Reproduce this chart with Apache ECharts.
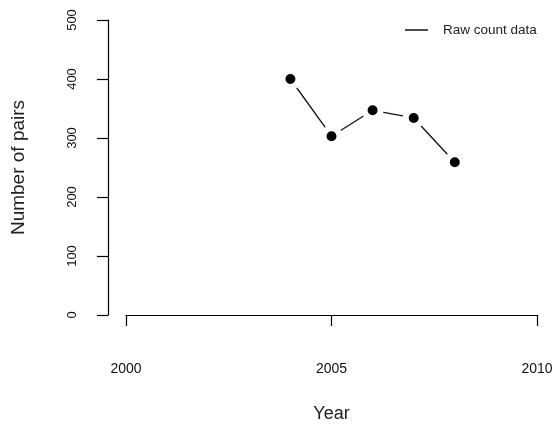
<!DOCTYPE html>
<html><head><meta charset="utf-8">
<script src="https://cdn.jsdelivr.net/npm/echarts@6/dist/echarts.min.js"></script>
<style>html,body{margin:0;padding:0;background:#fff}#c{width:553px;height:430px}</style>
</head><body><div id="c"></div>
<script>
const years = [2004, 2005, 2006, 2007, 2008];
const pairs = [400, 303, 347, 334, 259];
const xTicks = [2000, 2005, 2010];
const yTicks = [0, 100, 200, 300, 400, 500];
const seriesName = 'Raw count data';

const chart = echarts.init(document.getElementById('c'));
const font = '"Liberation Sans", Arial, sans-serif';
chart.setOption({
  backgroundColor: '#fff',
  animation: false,
  textStyle: { fontFamily: font },
  grid: { left: 126, right: 16, top: 20, bottom: 115, outerBoundsMode: 'none', containLabel: false },
  legend: {
    data: [{ name: seriesName, icon: 'rect' }],
    left: 400, top: 18,
    itemWidth: 23, itemHeight: 1.4,
    itemStyle: { color: '#000', borderWidth: 0, borderColor: 'transparent' },
    textStyle: { fontSize: 13.5, color: '#222', fontFamily: font, padding: [0, 0, 0, 10] }
  },
  xAxis: {
    type: 'value', min: xTicks[0], max: xTicks[xTicks.length - 1], interval: 5,
    offset: 12,
    axisLine: { show: true, lineStyle: { color: '#000', width: 1.2 } },
    axisTick: { show: true, length: 11, lineStyle: { color: '#000', width: 1.2 } },
    axisLabel: { margin: 35, fontSize: 14, color: '#111', fontFamily: font, formatter: v => String(v) },
    splitLine: { show: false },
    name: 'Year', nameLocation: 'middle', nameGap: 78,
    nameTextStyle: { fontSize: 18, color: '#222', fontFamily: font }
  },
  yAxis: {
    type: 'value', min: yTicks[0], max: yTicks[yTicks.length - 1], interval: 100,
    offset: 18,
    axisLine: { show: true, lineStyle: { color: '#000', width: 1.2 } },
    axisTick: { show: true, length: 11, lineStyle: { color: '#000', width: 1.2 } },
    axisLabel: { rotate: 90, margin: 29, fontSize: 13, color: '#111', fontFamily: font },
    splitLine: { show: false },
    name: 'Number of pairs', nameLocation: 'middle', nameGap: 80,
    nameTextStyle: { fontSize: 19, color: '#222', fontFamily: font }
  },
  series: [
    {
      name: seriesName, type: 'line',
      data: years.map((y, i) => [y, pairs[i]]),
      symbol: 'circle', symbolSize: 16,
      itemStyle: { color: '#000', borderColor: '#fff', borderWidth: 6 },
      lineStyle: { color: '#111', width: 1.3 },
      z: 3
    }
  ]
});
</script></body></html>
